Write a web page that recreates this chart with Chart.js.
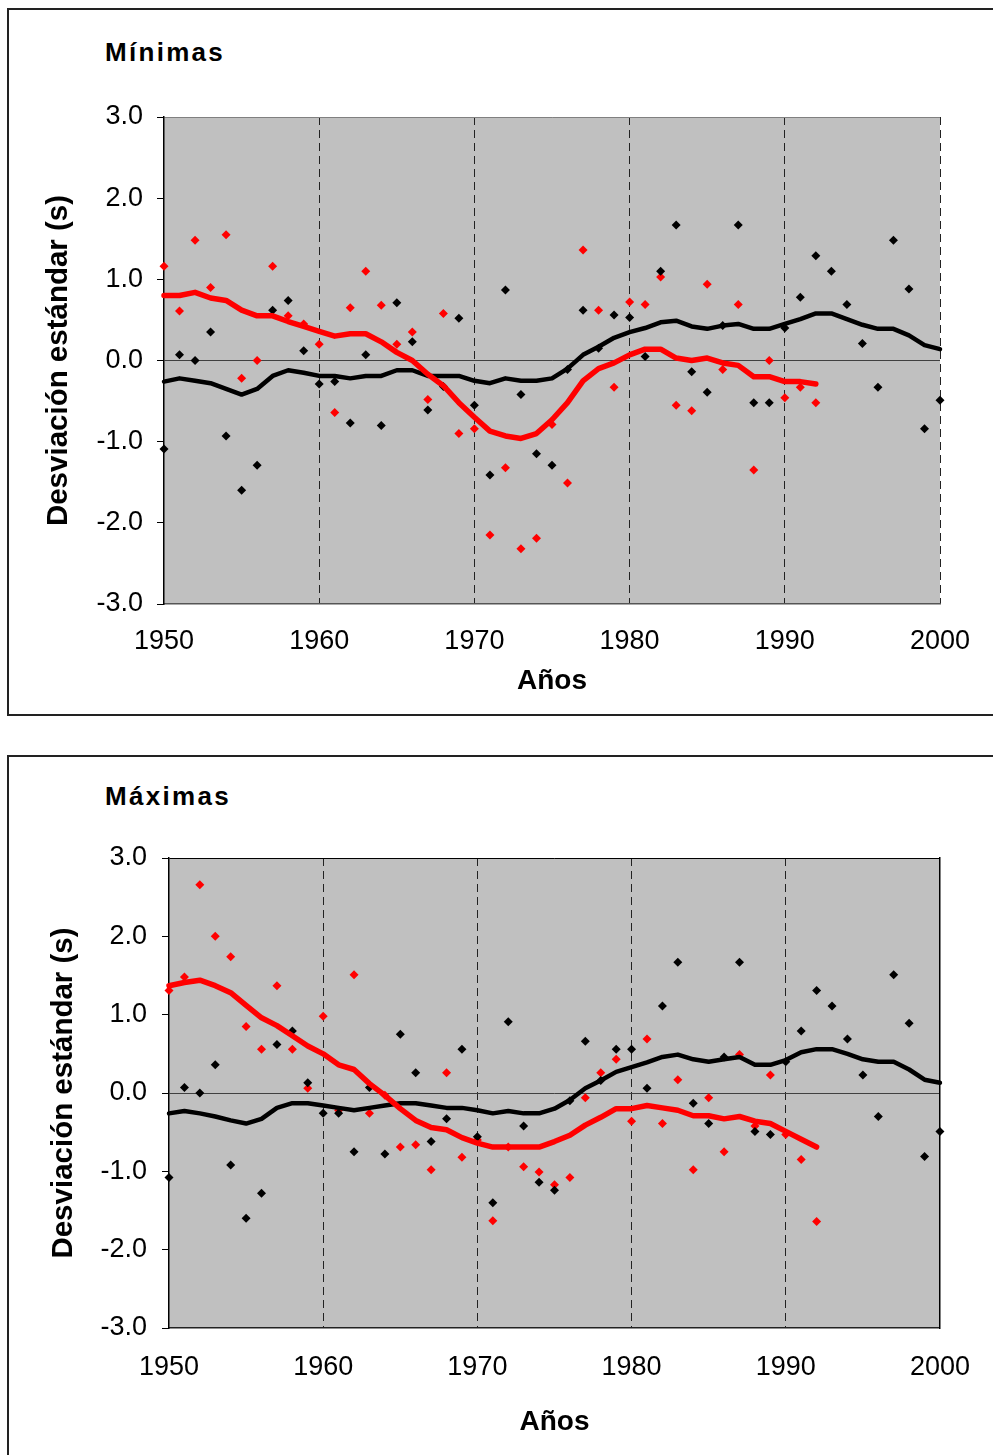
<!DOCTYPE html>
<html>
<head>
<meta charset="utf-8">
<script src="https://cdn.jsdelivr.net/npm/chart.js@4.4.0/dist/chart.umd.min.js"></script>
<style>
  html, body { margin:0; padding:0; background:#fff; }
  body { width:993px; height:1455px; overflow:hidden; position:relative; font-family:"Liberation Sans", Arial, sans-serif; }
  .box { position:absolute; left:7px; border:2px solid #222; box-sizing:border-box; width:1010px; }
  #box1 { top:8px; height:708px; }
  #box2 { top:755px; height:740px; }
  .ttl { position:absolute; left:105px; font-weight:bold; font-size:26px; line-height:30px; letter-spacing:2.3px; color:#000; }
  canvas { position:absolute; left:0; }
</style>
</head>
<body>
<div class="box" id="box1"></div>
<div class="box" id="box2"></div>
<div class="ttl" style="top:37px">Mínimas</div>
<div class="ttl" style="top:781px">Máximas</div>
<canvas id="c1" width="993" height="740" style="top:0px;width:993px;height:740px"></canvas>
<canvas id="c2" width="993" height="715" style="top:740px;width:993px;height:715px"></canvas>
<script>
// ---- data ----
const years = [1950,1951,1952,1953,1954,1955,1956,1957,1958,1959,
               1960,1961,1962,1963,1964,1965,1966,1967,1968,1969,
               1970,1971,1972,1973,1974,1975,1976,1977,1978,1979,
               1980,1981,1982,1983,1984,1985,1986,1987,1988,1989,
               1990,1991,1992,1993,1994,1995,1996,1997,1998,1999,2000];

const xTickValues = [1950, 1960, 1970, 1980, 1990, 2000];
const xTickLabels = ['1950', '1960', '1970', '1980', '1990', '2000'];
const yTickValues = [-3, -2, -1, 0, 1, 2, 3];
const yTickLabels = ['-3.0', '-2.0', '-1.0', '0.0', '1.0', '2.0', '3.0'];

// Mínimas
const minBlackPts = [-1.09,0.07,0.00,0.35,-0.93,-1.60,-1.29,0.62,0.74,0.12,
                     -0.29,-0.26,-0.77,0.07,-0.80,0.71,0.23,-0.61,-0.32,0.52,
                     -0.55,-1.41,0.87,-0.42,-1.15,-1.29,-0.11,0.62,0.15,0.56,
                     0.53,0.05,1.10,1.67,-0.14,-0.39,0.43,1.67,-0.52,-0.52,
                     0.40,0.78,1.29,1.10,0.69,0.21,-0.33,1.48,0.88,-0.84,-0.49];
const minBlackLine = [-0.26,-0.22,-0.25,-0.28,-0.35,-0.42,-0.35,-0.19,-0.12,-0.15,
                      -0.19,-0.19,-0.22,-0.19,-0.19,-0.12,-0.12,-0.19,-0.19,-0.19,
                      -0.25,-0.28,-0.22,-0.25,-0.25,-0.22,-0.10,0.07,0.17,0.28,
                      0.35,0.40,0.47,0.49,0.42,0.39,0.43,0.45,0.39,0.39,
                      0.45,0.51,0.58,0.58,0.51,0.44,0.39,0.39,0.31,0.19,0.14];
const minRedPts = [1.16,0.61,1.48,0.90,1.55,-0.22,0.00,1.16,0.55,0.45,
                   0.20,-0.64,0.65,1.10,0.68,0.20,0.35,-0.48,0.58,-0.90,
                   -0.84,-2.15,-1.32,-2.32,-2.19,-0.79,-1.51,1.36,0.62,-0.33,
                   0.72,0.69,1.03,-0.55,-0.62,0.94,-0.11,0.69,-1.35,0.00,
                   -0.46,-0.33,-0.52];
const minRedLine = [0.80,0.80,0.84,0.77,0.74,0.62,0.55,0.55,0.48,0.42,
                    0.36,0.30,0.33,0.33,0.23,0.10,0.00,-0.17,-0.31,-0.52,
                    -0.70,-0.87,-0.93,-0.96,-0.90,-0.73,-0.52,-0.25,-0.10,-0.03,
                    0.07,0.14,0.14,0.03,0.00,0.03,-0.03,-0.06,-0.20,-0.20,
                    -0.26,-0.26,-0.29];

// Máximas
const maxBlackPts = [-1.08,0.07,0.00,0.36,-0.92,-1.60,-1.28,0.62,0.79,0.13,
                     -0.26,-0.26,-0.75,0.07,-0.78,0.75,0.26,-0.62,-0.33,0.56,
                     -0.56,-1.40,0.91,-0.42,-1.14,-1.24,-0.10,0.66,0.16,0.56,
                     0.56,0.06,1.11,1.67,-0.13,-0.39,0.46,1.67,-0.49,-0.53,
                     0.40,0.79,1.31,1.11,0.69,0.23,-0.30,1.51,0.89,-0.81,-0.49];
const maxBlackLine = [-0.26,-0.23,-0.26,-0.30,-0.35,-0.39,-0.33,-0.19,-0.13,-0.13,
                      -0.16,-0.19,-0.22,-0.19,-0.16,-0.13,-0.13,-0.16,-0.19,-0.19,
                      -0.22,-0.26,-0.23,-0.26,-0.26,-0.20,-0.09,0.06,0.16,0.27,
                      0.33,0.39,0.46,0.49,0.43,0.40,0.43,0.46,0.36,0.36,
                      0.42,0.52,0.56,0.56,0.50,0.43,0.40,0.40,0.30,0.17,0.13];
const maxRedPts = [1.31,1.48,2.66,2.00,1.74,0.85,0.56,1.37,0.56,0.06,
                   0.98,-0.22,1.51,-0.26,-0.03,-0.69,-0.66,-0.98,0.26,-0.82,
                   -0.60,-1.63,-0.69,-0.94,-1.01,-1.17,-1.08,-0.06,0.26,0.43,
                   -0.36,0.69,-0.39,0.17,-0.98,-0.06,-0.75,0.49,-0.42,0.23,
                   -0.53,-0.85,-1.64];
const maxRedLine = [1.37,1.41,1.44,1.37,1.28,1.12,0.96,0.86,0.73,0.60,
                    0.50,0.36,0.30,0.12,-0.03,-0.20,-0.35,-0.44,-0.47,-0.57,
                    -0.64,-0.69,-0.69,-0.69,-0.69,-0.62,-0.54,-0.41,-0.31,-0.20,
                    -0.20,-0.16,-0.19,-0.22,-0.29,-0.29,-0.33,-0.30,-0.36,-0.39,
                    -0.49,-0.59,-0.69];

const xTitle = 'Años';
const yTitle = 'Desviación estándar (s)';

// ---- rendering ----
Chart.defaults.font.family = '"Liberation Sans", Arial, sans-serif';
Chart.defaults.color = '#000';

function pts(xs, ys) { return ys.map((v, i) => ({ x: xs[i], y: v })); }

const plotBg = {
  id: 'plotBg',
  beforeDraw(chart) {
    const { ctx, chartArea: a } = chart;
    ctx.save();
    ctx.fillStyle = '#c0c0c0';
    ctx.fillRect(a.left, a.top, a.right - a.left, a.bottom - a.top);
    ctx.restore();
  }
};

function makeChart(id, L, blackPts, blackLine, redPts, redLine) {
  const datasets = [
    { data: pts(years, redLine), borderColor: '#ff0000', borderWidth: 5.5, pointRadius: 0,
      tension: 0, fill: false, clip: false, borderJoinStyle: 'round', borderCapStyle: 'round' },
    { data: pts(years, blackLine), borderColor: '#000000', borderWidth: 4.5, pointRadius: 0,
      tension: 0, fill: false, clip: false, borderJoinStyle: 'round', borderCapStyle: 'round' },
    { data: pts(years, blackPts), showLine: false, pointStyle: 'rectRot', pointRadius: 4.5,
      pointBackgroundColor: '#000000', pointBorderColor: '#000000', pointBorderWidth: 0, clip: false },
    { data: pts(years, redPts), showLine: false, pointStyle: 'rectRot', pointRadius: 4.5,
      pointBackgroundColor: '#ff0000', pointBorderColor: '#ff0000', pointBorderWidth: 0, clip: false }
  ];
  const scales = {
    x: {
      type: 'linear', min: 1950, max: 2000,
      afterBuildTicks: s => { s.ticks = xTickValues.map(v => ({ value: v })); },
      ticks: { font: { size: 27 }, color: '#000', padding: L.xTickPad, maxRotation: 0, autoSkip: false,
               callback: (v, i) => xTickLabels[i] },
      grid: { drawTicks: false, lineWidth: 1,
              color: c => (c.tick && (c.tick.value === 1950 || (L.solidRight && c.tick.value === 2000))) ? 'rgba(0,0,0,0)' : '#222' },
      border: { display: true, color: L.bottomColor, width: 1.5, dash: [8, 5] },
      title: { display: true, text: xTitle, font: { size: 28, weight: 'bold' }, color: '#000', padding: 0 },
      afterFit: s => { s.height = L.xHeight; }
    },
    y: {
      min: -3, max: 3,
      afterBuildTicks: s => { s.ticks = yTickValues.map(v => ({ value: v })); },
      ticks: { font: { size: 27 }, color: '#000', padding: L.yTickPad, callback: (v, i) => yTickLabels[i] },
      grid: { drawTicks: true, tickLength: 7, tickColor: '#000', tickWidth: 1, lineWidth: 1,
              color: c => c.tick && c.tick.value === 0 ? '#404040' : (c.tick && c.tick.value === 3 ? L.topColor : 'rgba(0,0,0,0)') },
      border: { display: true, color: '#000', width: 1.5 },
      title: { display: true, text: yTitle, font: { size: 29.5, weight: 'bold' }, color: '#000',
               padding: { top: L.yTitlePad, bottom: 0 } },
      afterFit: s => { s.width = L.yWidth; }
    }
  };
  if (L.solidRight) {
    scales.y2 = {
      position: 'right', min: -3, max: 3,
      ticks: { display: false },
      grid: { display: false, drawTicks: false },
      border: { display: true, color: '#000', width: 1.5 },
      afterFit: s => { s.width = 0; }
    };
  }
  return new Chart(document.getElementById(id), {
    type: 'line',
    data: { datasets },
    options: {
      responsive: false, animation: false, devicePixelRatio: 1,
      layout: { padding: { left: 0, top: L.padTop, right: L.padRight, bottom: L.padBottom } },
      plugins: { legend: { display: false }, tooltip: { enabled: false } },
      scales
    },
    plugins: [plotBg]
  });
}

makeChart('c1', { padTop: 117, padRight: 53, padBottom: 42, xHeight: 94, xTickPad: 21,
                  yWidth: 164, yTickPad: 14, yTitlePad: 41, topColor: '#808080', bottomColor: '#555',
                  solidRight: false },
          minBlackPts, minBlackLine, minRedPts, minRedLine);
makeChart('c2', { padTop: 118, padRight: 51, padBottom: 16, xHeight: 111, xTickPad: 23,
                  yWidth: 169, yTickPad: 15, yTitlePad: 46, topColor: '#000', bottomColor: '#222',
                  solidRight: true },
          maxBlackPts, maxBlackLine, maxRedPts, maxRedLine);
</script>
</body>
</html>
